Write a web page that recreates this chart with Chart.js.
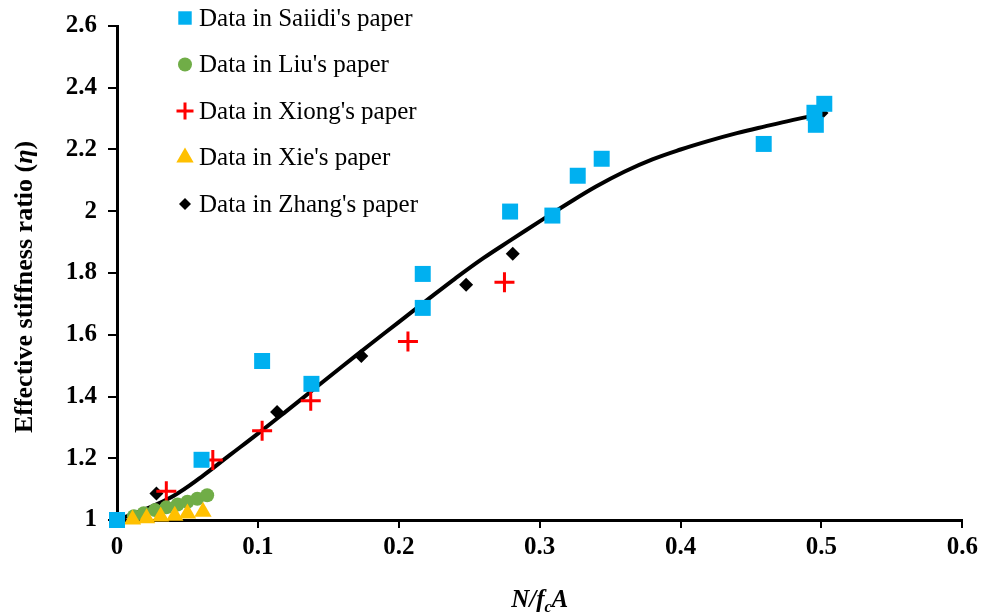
<!DOCTYPE html>
<html>
<head>
<meta charset="utf-8">
<script src="https://cdn.jsdelivr.net/npm/chart.js@4.4.0/dist/chart.umd.min.js"></script>
<style>
  html, body { margin: 0; padding: 0; background: #fff; }
</style>
</head>
<body>
<canvas id="stiffnessChart" width="983" height="614"></canvas>
<script>
// data
const saiidiX = [0, 0.060, 0.103, 0.138, 0.217, 0.217, 0.279, 0.309, 0.327, 0.344, 0.459, 0.495, 0.496, 0.502];
const saiidiY = [1.00, 1.195, 1.515, 1.441, 1.687, 1.797, 1.999, 1.986, 2.115, 2.170, 2.218, 2.319, 2.280, 2.348];

const liuX = [0.012, 0.019, 0.027, 0.035, 0.043, 0.050, 0.057, 0.064];
const liuY = [1.012, 1.022, 1.032, 1.041, 1.050, 1.059, 1.069, 1.080];

const xiongX = [0.035, 0.068, 0.103, 0.1375, 0.2065, 0.275];
const xiongY = [1.093, 1.194, 1.289, 1.386, 1.578, 1.770];

const xieX = [0.011, 0.021, 0.031, 0.041, 0.050, 0.061];
const xieY = [1.002, 1.006, 1.011, 1.014, 1.021, 1.027];

const zhangX = [0.028, 0.1136, 0.1734, 0.2478, 0.2809, 0.500];
const zhangY = [1.086, 1.350, 1.531, 1.762, 1.862, 2.318];

// fitted curve
const fitX = [0, 0.02, 0.04, 0.06, 0.08, 0.10, 0.12, 0.14, 0.16, 0.18, 0.20, 0.22, 0.24, 0.26, 0.28,
              0.30, 0.32, 0.34, 0.36, 0.38, 0.40, 0.42, 0.44, 0.46, 0.48, 0.50];
const fitY = [1.000, 1.035, 1.078, 1.140, 1.210, 1.280, 1.352, 1.425, 1.498, 1.570, 1.641, 1.712, 1.782, 1.848, 1.908,
              1.967, 2.025, 2.080, 2.128, 2.168, 2.200, 2.228, 2.253, 2.275, 2.296, 2.315];

const xTickLabels = ['0', '0.1', '0.2', '0.3', '0.4', '0.5', '0.6'];
const yTickLabels = ['1', '1.2', '1.4', '1.6', '1.8', '2', '2.2', '2.4', '2.6'];

const legendNames = ["Data in Saiidi's paper", "Data in Liu's paper", "Data in Xiong's paper",
                     "Data in Xie's paper", "Data in Zhang's paper"];

const serif = '"Liberation Serif", "Times New Roman", serif';

function toPoints(xs, ys) {
    return xs.map((x, i) => ({ x: x, y: ys[i] }));
}

// legend markers are a bit smaller than the plotted ones
const legendMarks = [
    { pointStyle: 'rect', radius: 9.5, color: '#00B0F0' },
    { pointStyle: 'circle', radius: 7, color: '#70AD47' },
    { pointStyle: 'cross', radius: 8.5, color: '#FF0000', line: 3 },
    { pointStyle: 'triangle', radius: 10, color: '#FFC000' },
    { pointStyle: 'rectRot', radius: 6, color: '#000000' }
];

const extras = {
    id: 'extras',
    afterDraw(chart) {
        const ctx = chart.ctx;
        const area = chart.chartArea;
        ctx.save();

        // legend in the upper left of the plot
        ctx.font = '25px ' + serif;
        ctx.textBaseline = 'middle';
        ctx.textAlign = 'left';
        legendNames.forEach((name, i) => {
            const y = 18 + i * 46.5;
            const m = legendMarks[i];
            ctx.fillStyle = m.color;
            ctx.strokeStyle = m.color;
            ctx.lineWidth = m.line || 1;
            Chart.helpers.drawPoint(ctx, { pointStyle: m.pointStyle, radius: m.radius, rotation: 0, borderWidth: m.line || 0 }, 185, y);
            ctx.fillStyle = '#000';
            ctx.fillText(name, 199, y + 1);
        });

        // x axis title  N/f_cA
        const big = 'italic bold 25px ' + serif;
        const small = 'italic bold 16px ' + serif;
        ctx.textBaseline = 'alphabetic';
        ctx.font = big;
        const w1 = ctx.measureText('N/f').width;
        const w3 = ctx.measureText('A').width;
        ctx.font = small;
        const w2 = ctx.measureText('c').width;
        let x = (area.left + area.right) / 2 - (w1 + w2 + w3) / 2;
        const base = 607;
        ctx.fillStyle = '#000';
        ctx.font = big;
        ctx.fillText('N/f', x, base);
        x += w1;
        ctx.font = small;
        ctx.fillText('c', x, base + 5);
        x += w2;
        ctx.font = big;
        ctx.fillText('A', x, base);

        // y axis title
        ctx.translate(32, 287);
        ctx.rotate(-Math.PI / 2);
        const normal = 'bold 26px ' + serif;
        const ital = 'italic bold 26px ' + serif;
        ctx.font = normal;
        const a = ctx.measureText('Effective stiffness ratio (').width;
        const c = ctx.measureText(')').width;
        ctx.font = ital;
        const b = ctx.measureText('\u03b7').width;
        let tx = -(a + b + c) / 2;
        ctx.font = normal;
        ctx.fillText('Effective stiffness ratio (', tx, 0);
        tx += a;
        ctx.font = ital;
        ctx.fillText('\u03b7', tx, 0);
        tx += b;
        ctx.font = normal;
        ctx.fillText(')', tx, 0);

        ctx.restore();
    }
};

new Chart(document.getElementById('stiffnessChart'), {
    type: 'scatter',
    data: {
        datasets: [
            {
                label: legendNames[0],
                data: toPoints(saiidiX, saiidiY),
                pointStyle: 'rect',
                pointRadius: 11.3,
                backgroundColor: '#00B0F0',
                borderColor: '#00B0F0',
                borderWidth: 0,
                clip: false,
                order: 0
            },
            {
                label: legendNames[1],
                data: toPoints(liuX, liuY),
                pointStyle: 'circle',
                pointRadius: 7,
                backgroundColor: '#70AD47',
                borderColor: '#70AD47',
                borderWidth: 0,
                clip: false,
                order: 2
            },
            {
                label: legendNames[2],
                data: toPoints(xiongX, xiongY),
                pointStyle: 'cross',
                pointRadius: 10,
                borderColor: '#FF0000',
                borderWidth: 3,
                clip: false,
                order: 2
            },
            {
                label: legendNames[3],
                data: toPoints(xieX, xieY),
                pointStyle: 'triangle',
                pointRadius: 10,
                backgroundColor: '#FFC000',
                borderColor: '#FFC000',
                borderWidth: 0,
                clip: false,
                order: 1
            },
            {
                label: legendNames[4],
                data: toPoints(zhangX, zhangY),
                pointStyle: 'rectRot',
                pointRadius: 7,
                backgroundColor: '#000000',
                borderColor: '#000000',
                borderWidth: 0,
                clip: false,
                order: 4
            },
            {
                type: 'line',
                label: 'fit',
                data: toPoints(fitX, fitY),
                borderColor: '#000000',
                borderWidth: 4,
                pointRadius: 0,
                showLine: true,
                fill: false,
                tension: 0.4,
                clip: false,
                order: 3
            }
        ]
    },
    options: {
        responsive: false,
        animation: false,
        layout: { padding: { top: 25, right: 20, left: 0, bottom: 0 } },
        plugins: {
            legend: { display: false },
            tooltip: { enabled: false }
        },
        scales: {
            x: {
                type: 'linear',
                min: 0,
                max: 0.6,
                afterFit: scale => { scale.height = 94; },
                ticks: {
                    stepSize: 0.1,
                    padding: 5,
                    color: '#000',
                    font: { family: serif, size: 25, weight: 'bold' },
                    callback: (value, index) => xTickLabels[index]
                },
                grid: { drawOnChartArea: false, drawTicks: true, tickLength: 8, color: '#000', lineWidth: 2 },
                border: { display: true, color: '#000', width: 3 }
            },
            y: {
                type: 'linear',
                min: 1,
                max: 2.6,
                afterFit: scale => { scale.width = 117; },
                ticks: {
                    stepSize: 0.2,
                    padding: 11,
                    color: '#000',
                    font: { family: serif, size: 25, weight: 'bold' },
                    callback: (value, index) => yTickLabels[index]
                },
                grid: { drawOnChartArea: false, drawTicks: true, tickLength: 9, color: '#000', lineWidth: 2 },
                border: { display: true, color: '#000', width: 3 }
            }
        }
    },
    plugins: [extras]
});
</script>
</body>
</html>
